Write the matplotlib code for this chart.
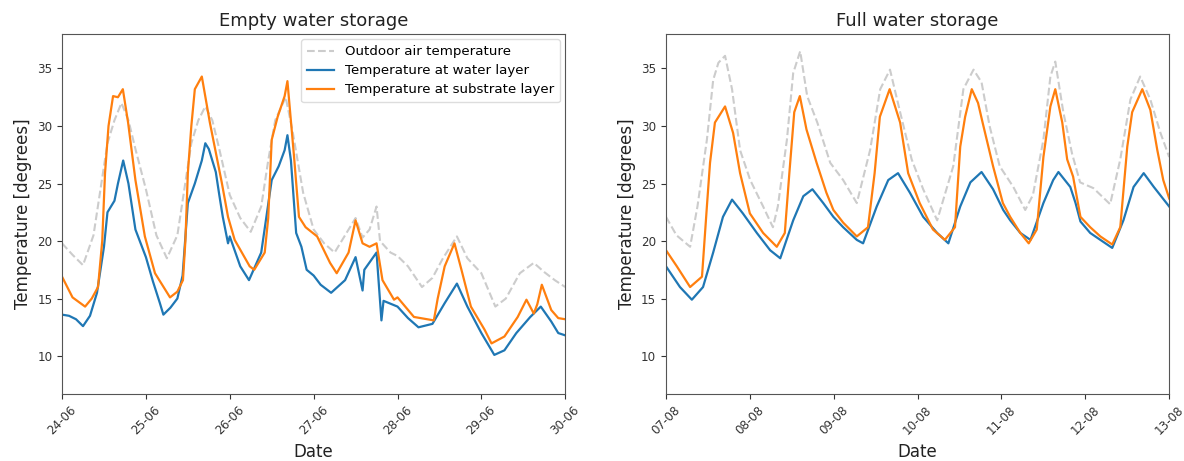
import matplotlib
matplotlib.use("Agg")
import matplotlib.pyplot as plt
import matplotlib.dates as mdates
import pandas as pd

# ---------------- data (hours since start of period, temperature) ----------------
empty_start = "2019-06-24"
full_start = "2019-08-07"

empty_air_h = [0, 3, 6, 9, 11, 13, 15, 17, 19, 21, 24, 27, 30, 33, 35, 37, 39, 41, 43, 45,
               48, 51, 54, 57, 59, 61, 64, 66, 69, 72, 75, 78, 81, 84, 86, 88, 90, 91, 94, 96,
               99, 103, 106, 109, 113, 116, 120, 124, 127, 131, 135, 138, 141, 144]
empty_air_t = [19.8, 18.8, 17.9, 20.5, 24.5, 28.5, 30.5, 32.0, 30.5, 28.0, 24.5, 20.5, 18.5, 20.5,
               24.5, 28.5, 30.5, 31.7, 30.5, 28.0, 24.0, 22.0, 20.8, 23.0, 27.0, 30.5, 32.5, 29.5,
               24.2, 21.0, 19.8, 19.0, 20.5, 22.0, 20.3, 21.0, 23.0, 20.0, 19.0, 18.7, 17.8, 16.0,
               16.8, 18.5, 20.4, 18.5, 17.2, 14.3, 15.0, 17.2, 18.1, 17.3, 16.6, 16.0]

empty_water_h = [0, 2, 4, 6, 8, 10, 12, 13, 15, 16, 17.5, 19, 21, 24, 26, 28, 29, 31, 33, 34.5,
                 36, 38, 40, 41, 42, 44, 45, 46, 47.5, 48, 51, 53.5, 57, 60, 62, 63.7, 64.5, 65.5,
                 67, 68.5, 70, 72, 74, 77, 81, 84, 86, 86.5, 90, 91.4, 92, 96, 99, 102, 106, 109.5,
                 113, 116, 120, 123.7, 126.6, 130, 134, 137, 140, 142, 144]
empty_water_t = [13.6, 13.5, 13.2, 12.6, 13.5, 15.5, 19.5, 22.5, 23.5, 25.0, 27.0, 25.0, 21.0, 18.6,
                 16.5, 14.6, 13.6, 14.2, 15.0, 17.0, 23.3, 25.0, 27.0, 28.5, 28.0, 26.0, 24.0, 22.1,
                 19.8, 20.4, 17.8, 16.6, 19.0, 25.3, 26.5, 27.9, 29.2, 27.0, 20.7, 19.5, 17.5, 17.0,
                 16.2, 15.5, 16.6, 18.6, 15.7, 17.5, 19.0, 13.1, 14.8, 14.3, 13.3, 12.5, 12.8, 14.6,
                 16.3, 14.3, 12.0, 10.1, 10.5, 12.0, 13.4, 14.3, 13.0, 12.0, 11.8]

empty_sub_h = [0, 3, 6.6, 8.5, 10.3, 11.5, 12.3, 13.3, 14.6, 16, 17.4, 18.9, 21, 23.7, 26.6, 30.9,
               33, 34.6, 35.3, 36, 37, 38, 40, 42.3, 45.7, 47.5, 49.4, 53.7, 55, 58, 59, 60, 61.7,
               63.7, 64.5, 66.4, 67.8, 69.7, 73, 76.7, 78.6, 82, 84, 86, 88, 90, 91.7, 95, 96,
               100.7, 106.4, 107.5, 109.5, 112.3, 114.3, 117, 120.9, 122.9, 126.6, 130.4, 132.9,
               135, 136, 137.3, 140, 142, 144]
empty_sub_t = [16.9, 15.1, 14.3, 15.0, 16.0, 20.0, 25.9, 30.0, 32.6, 32.5, 33.2, 30.3, 25.3, 20.4,
               17.2, 15.1, 15.6, 16.6, 20.0, 25.9, 30.0, 33.2, 34.3, 30.3, 25.1, 22.1, 20.1, 17.8,
               17.5, 19.0, 22.0, 28.8, 30.8, 32.6, 33.9, 27.3, 22.1, 21.2, 20.4, 18.1, 17.2, 19.0,
               21.8, 19.8, 19.5, 19.8, 16.6, 14.9, 15.1, 13.4, 13.1, 15.0, 17.8, 19.8, 17.5, 14.3,
               12.3, 11.1, 11.7, 13.4, 14.9, 13.7, 14.5, 16.2, 14.0, 13.3, 13.2]

full_air_h = [0, 3, 6.9, 9, 11.7, 13.5, 15, 16.9, 18.9, 21.2, 24.1, 27.8, 30.6, 32, 34.6, 36.4,
              38.4, 40.4, 43.3, 47, 50.7, 54.6, 58.4, 61.3, 64.1, 67, 70.3, 73.6, 77.6, 82.2, 85.1,
              88, 90.3, 92.6, 95.5, 99.4, 102.8, 105, 108, 110, 111.4, 113.7, 116.2, 118.5, 122.3,
              127.1, 130, 132.9, 135.7, 138.6, 141.5, 144]
full_air_t = [22.1, 20.5, 19.5, 23.0, 28.8, 34.0, 35.5, 36.1, 33.2, 27.9, 25.3, 23.0, 21.2, 23.0,
              28.8, 34.6, 36.5, 32.6, 30.3, 26.8, 25.3, 23.3, 27.9, 33.2, 34.9, 31.2, 27.1, 24.5,
              21.8, 26.5, 33.2, 34.9, 33.8, 30.0, 26.5, 24.7, 22.7, 24.0, 28.8, 34.3, 35.6, 31.2,
              27.6, 25.1, 24.6, 23.2, 27.1, 32.3, 34.3, 32.3, 29.4, 27.3]

full_water_h = [0, 4, 7.4, 10.6, 13.5, 16.3, 18.9, 22, 26, 29.8, 32.7, 36.4, 39.3, 41.9, 45, 47.9,
                50.7, 54.6, 56.4, 60.3, 63.6, 66.4, 69.8, 73.6, 77.6, 80.8, 84.2, 87.1, 90.3, 93.6,
                96.5, 98.5, 101.4, 104.3, 108, 110.8, 112.3, 115.7, 117.2, 118.6, 121.4, 124.3,
                127.7, 130.9, 133.8, 136.7, 139.6, 144]
full_water_t = [17.8, 16.0, 14.9, 16.0, 19.0, 22.1, 23.6, 22.4, 20.7, 19.2, 18.5, 21.8, 23.9, 24.5,
                23.3, 22.1, 21.2, 20.1, 19.8, 23.0, 25.3, 25.9, 24.2, 22.1, 20.7, 19.8, 23.0, 25.1,
                26.0, 24.5, 22.7, 21.8, 20.7, 20.1, 23.3, 25.3, 26.0, 24.7, 23.3, 21.7, 20.7, 20.1,
                19.4, 21.8, 24.7, 25.9, 24.7, 23.0]

full_sub_h = [0, 3.1, 6.9, 10.3, 11.7, 12.6, 14, 16.9, 19.2, 21.2, 24, 27.8, 31.7, 34, 35.3, 36.7,
              38.3, 40.2, 43.1, 45.9, 47.9, 50.7, 54.6, 57.8, 59.7, 61.2, 64, 67, 69.3, 72.6, 76.4,
              79.8, 82.7, 84.2, 85.6, 87.5, 89.3, 90.6, 93.6, 96.4, 98.5, 101.4, 103.8, 106.1, 108,
              110, 111.4, 113.4, 114.8, 116.5, 118.6, 121.4, 124.3, 127.7, 130, 132, 133.4, 136.3,
              138.6, 140.6, 142.3, 144]
full_sub_t = [19.2, 17.8, 16.0, 16.9, 23.0, 26.8, 30.3, 31.7, 29.4, 25.9, 22.4, 20.7, 19.5, 20.7,
              25.9, 31.2, 32.6, 29.7, 26.8, 24.2, 22.7, 21.6, 20.4, 21.2, 25.9, 30.8, 33.2, 30.3,
              25.9, 23.3, 21.0, 20.1, 21.2, 28.2, 30.8, 33.2, 32.0, 30.3, 26.5, 23.3, 22.1, 20.7,
              19.8, 21.0, 27.3, 31.7, 33.2, 30.3, 27.1, 25.6, 22.1, 21.2, 20.4, 19.7, 21.2, 28.2,
              31.2, 33.2, 31.4, 27.9, 25.3, 23.7]

titles = ["Empty water storage", "Full water storage"]
labels = ["Outdoor air temperature", "Temperature at water layer", "Temperature at substrate layer"]
n_days = 6

# ---------------- plotting ----------------
def to_time(start, hours):
    return pd.Timestamp(start) + pd.to_timedelta(hours, unit="h")

fig = plt.figure(figsize=(11.84, 4.61), dpi=100)
ax1 = fig.add_axes([0.0524, 0.1453, 0.4250, 0.7810])
ax2 = fig.add_axes([0.5625, 0.1453, 0.4250, 0.7810])

panels = [
    (ax1, empty_start, (empty_air_h, empty_air_t), (empty_water_h, empty_water_t), (empty_sub_h, empty_sub_t)),
    (ax2, full_start, (full_air_h, full_air_t), (full_water_h, full_water_t), (full_sub_h, full_sub_t)),
]

for i, (ax, start, air, water, sub) in enumerate(panels):
    ax.plot(to_time(start, air[0]), air[1], color="#cccccc", ls="--", lw=1.5, label=labels[0])
    ax.plot(to_time(start, water[0]), water[1], color="#1f77b4", lw=1.6, label=labels[1])
    ax.plot(to_time(start, sub[0]), sub[1], color="#ff7f0e", lw=1.6, label=labels[2])
    ax.set_xlim(pd.Timestamp(start), pd.Timestamp(start) + pd.Timedelta(days=n_days))
    ax.set_ylim(6.7, 38.0)
    ax.set_yticks([10, 15, 20, 25, 30, 35])
    ax.xaxis.set_major_locator(mdates.DayLocator())
    ax.xaxis.set_major_formatter(mdates.DateFormatter("%d-%m"))
    ax.tick_params(axis="both", labelsize=8.6, colors="#333333", length=3.5)
    for lab in ax.get_xticklabels():
        lab.set_rotation(45)
    ax.set_title(titles[i], fontsize=13, color="#222222", pad=6)
    ax.set_xlabel("Date", fontsize=12, color="#222222")
    ax.set_ylabel("Temperature [degrees]", fontsize=12, color="#222222")
    for sp in ax.spines.values():
        sp.set_color("#555555")

ax1.legend(loc="upper right", fontsize=9.6, framealpha=1, edgecolor="#dddddd",
           borderpad=0.45, handlelength=2.0, labelspacing=0.45, borderaxespad=0.4)

fig.savefig("out.png", dpi=100)
